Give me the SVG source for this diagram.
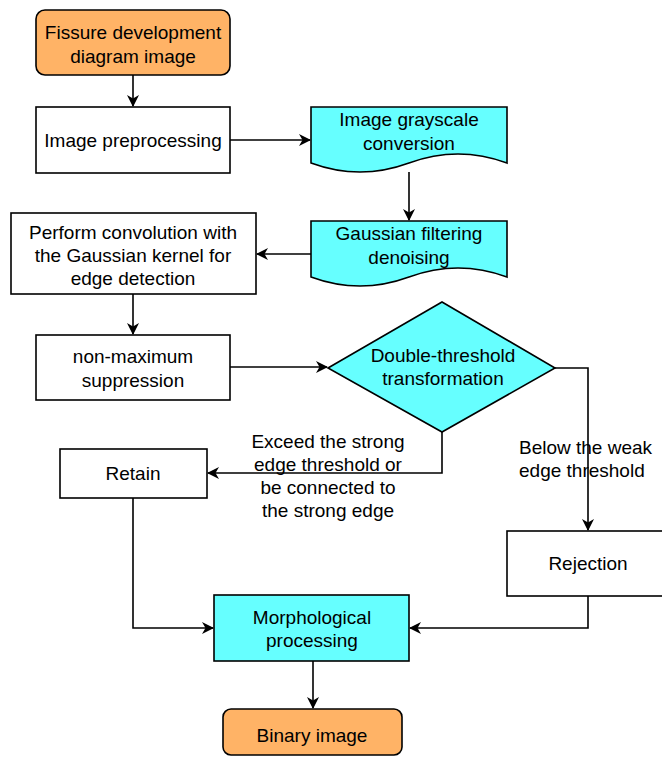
<svg xmlns="http://www.w3.org/2000/svg" width="662" height="758" viewBox="0 0 662 758">
<defs>
<style>
.box{fill:#ffffff;stroke:#000;stroke-width:1.6}
.term{fill:#ffb366;stroke:#000;stroke-width:1.6}
.cyan{fill:#66ffff;stroke:#000;stroke-width:1.6}
.t{font-family:"Liberation Sans",Arial,sans-serif;font-size:19px;fill:#000;text-anchor:middle}
.ts{text-anchor:start}
.c{fill:none;stroke:#000;stroke-width:1.6}
</style>
<marker id="ah" markerWidth="13" markerHeight="12" refX="11" refY="6" orient="auto" markerUnits="userSpaceOnUse">
<path d="M0,0 L12,6 L0,12 L3.5,6 Z" fill="#000"/>
</marker>
</defs>
<rect width="662" height="758" fill="#fff"/>
<g id="connectors">
<path class="c" d="M133,75 V106" marker-end="url(#ah)"/>
<path class="c" d="M230,140 H310" marker-end="url(#ah)"/>
<path class="c" d="M409,172 V220" marker-end="url(#ah)"/>
<path class="c" d="M311,254 H257" marker-end="url(#ah)"/>
<path class="c" d="M133,294 V334" marker-end="url(#ah)"/>
<path class="c" d="M230,367 H327" marker-end="url(#ah)"/>
<path class="c" d="M442,432 V473 H208" marker-end="url(#ah)"/>
<path class="c" d="M555,368 H588 V530" marker-end="url(#ah)"/>
<path class="c" d="M133,498 V628 H213" marker-end="url(#ah)"/>
<path class="c" d="M588,596 V628 H410" marker-end="url(#ah)"/>
<path class="c" d="M313,661 V708" marker-end="url(#ah)"/>
</g>
<g id="n1">
<rect class="term" x="36" y="10" width="194" height="65" rx="9"/>
<text class="t" x="133" y="39">Fissure development</text>
<text class="t" x="133" y="63">diagram image</text>
</g>
<g id="n2">
<rect class="box" x="36" y="107" width="194" height="66"/>
<text class="t" x="133" y="147">Image preprocessing</text>
</g>
<g id="n3">
<path class="cyan" d="M311,107 H507 V163 Q458,145 409,163 Q360,181 311,163 Z"/>
<text class="t" x="409" y="126">Image grayscale</text>
<text class="t" x="409" y="150">conversion</text>
</g>
<g id="n4">
<path class="cyan" d="M311,221 H507 V277 Q458,259 409,277 Q360,295 311,277 Z"/>
<text class="t" x="409" y="240">Gaussian filtering</text>
<text class="t" x="409" y="264">denoising</text>
</g>
<g id="n5">
<rect class="box" x="11" y="213" width="245" height="81"/>
<text class="t" x="133" y="239">Perform convolution with</text>
<text class="t" x="133" y="262">the Gaussian kernel for</text>
<text class="t" x="133" y="285">edge detection</text>
</g>
<g id="n6">
<rect class="box" x="36" y="335" width="194" height="65"/>
<text class="t" x="133" y="363">non-maximum</text>
<text class="t" x="133" y="387">suppression</text>
</g>
<g id="n7">
<path class="cyan" d="M328,368 L442,302 L555,368 L442,432 Z"/>
<text class="t" x="443" y="362">Double-threshold</text>
<text class="t" x="443" y="385">transformation</text>
</g>
<g id="n8">
<rect class="box" x="60" y="449" width="147" height="49"/>
<text class="t" x="133" y="480">Retain</text>
</g>
<g id="lbl1">
<text class="t" x="328" y="448">Exceed the strong</text>
<text class="t" x="328" y="471">edge threshold or</text>
<text class="t" x="328" y="494">be connected to</text>
<text class="t" x="328" y="517">the strong edge</text>
</g>
<g id="lbl2">
<text class="t ts" x="519" y="454">Below the weak</text>
<text class="t ts" x="519" y="477">edge threshold</text>
</g>
<g id="n9">
<rect class="box" x="507" y="531" width="165" height="65"/>
<text class="t" x="588" y="570">Rejection</text>
</g>
<g id="n10">
<rect class="cyan" x="214" y="595" width="195" height="66"/>
<text class="t" x="312" y="624">Morphological</text>
<text class="t" x="312" y="647">processing</text>
</g>
<g id="n11">
<rect class="term" x="223" y="709" width="179" height="46" rx="8"/>
<text class="t" x="312" y="742">Binary image</text>
</g>
</svg>
